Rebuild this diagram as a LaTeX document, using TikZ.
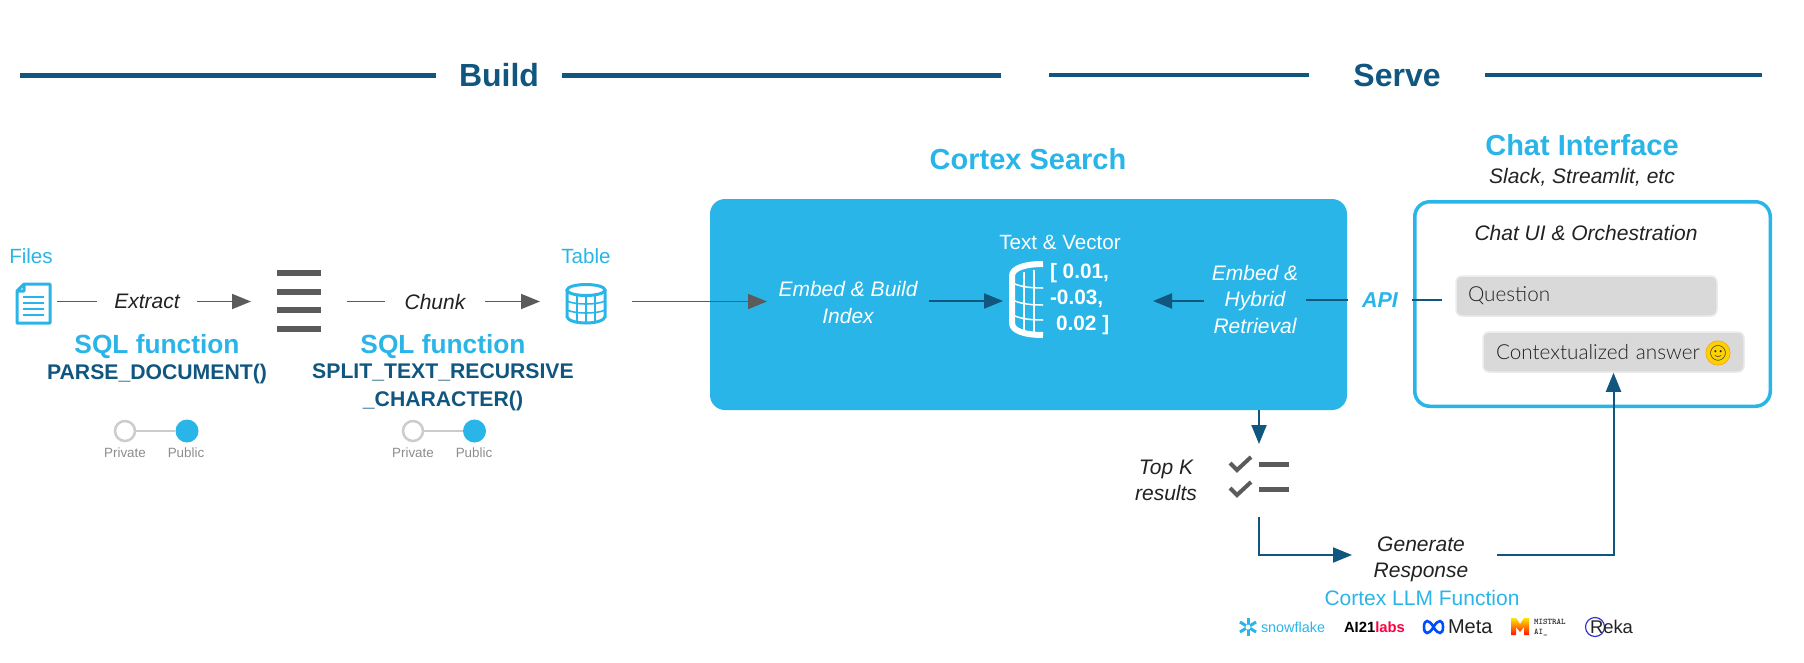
\documentclass[tikz,border=0pt]{standalone}
\usepackage{fontspec}
\setmainfont{Liberation Sans}
\newfontfamily\latofont{Lato Light}
\newfontfamily\emojifont{Noto Emoji}
\usetikzlibrary{arrows.meta}
\definecolor{snowblue}{HTML}{29B5E8}
\definecolor{midblue}{HTML}{11567F}
\definecolor{iconGray}{HTML}{5B5B5B}
\definecolor{inkGray}{HTML}{222222}
\definecolor{bubbleGray}{HTML}{D9D9D9}
\tikzset{
    bare/.style={inner sep=0pt, outer sep=0pt, align=center},
    rule/.style={midblue, line width=4.5pt},
    headline/.style={bare, midblue, font=\fontsize{32}{36}\selectfont\bfseries},
    sectionhead/.style={bare, snowblue, font=\fontsize{29}{33}\selectfont\bfseries},
    sqlhead/.style={bare, snowblue, font=\fontsize{26.3}{30}\selectfont\bfseries},
    sqlname/.style={bare, midblue, font=\fontsize{21.2}{28}\selectfont\bfseries},
    caption/.style={bare, snowblue, font=\fontsize{20.6}{25}\selectfont},
    action/.style={bare, inkGray, font=\fontsize{21}{26}\selectfont\itshape},
    whiteaction/.style={bare, white, font=\fontsize{21}{26.5}\selectfont\itshape},
    tinylabel/.style={bare, gray!90, font=\fontsize{13.4}{16}\selectfont},
    offdot/.style={circle, draw=gray!40, fill=white, line width=2.5pt, minimum size=20pt, inner sep=0pt},
    ondot/.style={circle, fill=snowblue, minimum size=23pt, inner sep=0pt},
    bubble/.style={draw=gray!15, fill=bubbleGray, line width=1.5pt, rounded corners=6pt, inner sep=0pt,
        minimum height=40pt, text width=261pt, align=left, text=inkGray, font=\latofont\fontsize{20.7}{24}\selectfont},
    grayline/.style={iconGray, line width=1.8pt},
    grayarrow/.style={grayline, -{Triangle[length=19pt,width=15pt]}},
    blueline/.style={midblue, line width=2pt},
    bluearrow/.style={blueline, -{Triangle[length=19pt,width=15pt]}},
    slot/.style={inner sep=0pt, outer sep=0pt}
}
\begin{document}
\begin{tikzpicture}[x=1pt, y=-1pt]
    \useasboundingbox (0,0) rectangle (1804,662);

    % Header rules
    \node[headline, minimum width=126pt] (build) at (499,75.5) {Build};
    \node[headline, minimum width=176pt] (serve) at (1397,75) {Serve};
    \coordinate (buildleft) at (20,75.5);
    \coordinate (buildright) at (1001,75.5);
    \coordinate (serveleft) at (1049,75);
    \coordinate (serveright) at (1762,75);
    \draw[rule] (buildleft) -- (build.west);
    \draw[rule] (build.east) -- (buildright);
    \draw[rule] (serveleft) -- (serve.west);
    \draw[rule] (serve.east) -- (serveright);

    % Files and extract step
    \node[caption] (files) at (31,256) {Files};
    \node[slot, minimum width=47pt, minimum height=40pt] (fileicon) at (33.5,301.5) {};
    \draw[snowblue, line width=3pt, line join=round] (24,284) -- (50,284) -- (50,323) -- (17,323) -- (17,291) -- (24,284) -- (24,291) -- (17,291);
    \draw[snowblue, line width=2.4pt] (23,297) -- (44,297);
    \draw[snowblue, line width=2.4pt] (23,303) -- (44,303);
    \draw[snowblue, line width=2.4pt] (23,309) -- (44,309);
    \draw[snowblue, line width=2.4pt] (23,315) -- (44,315);
    \node[action, minimum width=100pt] (extract) at (147,301.5) {Extract};
    \node[sqlhead] (sqlone) at (157,347) {SQL function};
    \node[sqlname] (parsefn) at (157,374) {PARSE\_DOCUMENT()};
    \node[offdot] (privateone) at (125,431) {};
    \node[ondot] (publicone) at (187,431) {};
    \draw[gray!40, line width=2.5pt] (privateone) -- (publicone);
    \node[tinylabel] (privateonelabel) at (125,453) {Private};
    \node[tinylabel] (publiconelabel) at (186,453) {Public};

    % Chunks and chunk step
    \node[slot, minimum width=96pt, minimum height=62pt] (chunks) at (299,301.5) {};
    \fill[iconGray] (277,270) rectangle (321,276);
    \fill[iconGray] (277,289) rectangle (321,295);
    \fill[iconGray] (277,307) rectangle (321,313);
    \fill[iconGray] (277,326) rectangle (321,332);
    \node[action, minimum width=100pt] (chunk) at (435,301.5) {Chunk};
    \node[sqlhead] (sqltwo) at (443,347) {SQL function};
    \node[sqlname] (splitfn) at (443,387) {SPLIT\_TEXT\_RECURSIVE\\\_CHARACTER()};
    \node[offdot] (privatetwo) at (413,431) {};
    \node[ondot] (publictwo) at (474.5,431) {};
    \draw[gray!40, line width=2.5pt] (privatetwo) -- (publictwo);
    \node[tinylabel] (privatetwolabel) at (413,453) {Private};
    \node[tinylabel] (publictwolabel) at (474,453) {Public};

    % Table
    \node[caption] (table) at (586,256) {Table};
    \node[slot, minimum width=92pt, minimum height=40pt] (tableicon) at (586,301.5) {};
    \draw[snowblue, line width=3pt] (586,290) ellipse (19pt and 5.5pt);
    \draw[snowblue, line width=3pt] (567,290) -- (567,317) .. controls (570,325) and (602,325) .. (605,317) -- (605,290);
    \draw[snowblue, line width=1.6pt] (567,301) .. controls (575,305) and (597,305) .. (605,301);
    \draw[snowblue, line width=1.6pt] (567,310) .. controls (575,314) and (597,314) .. (605,310);
    \draw[snowblue, line width=1.6pt] (577,295) -- (577,321);
    \draw[snowblue, line width=1.6pt] (586,296) -- (586,322);
    \draw[snowblue, line width=1.6pt] (595,295) -- (595,321);

    % Cortex Search box
    \node[sectionhead] (search) at (1028,159) {Cortex Search};
    \node[fill=snowblue, rounded corners=15pt, inner sep=0pt, minimum width=637pt, minimum height=211pt] (searchbox) at (1028.5,304.5) {};
    \node[whiteaction, minimum width=162pt] (embed) at (848,302.5) {Embed \& Build\\Index};
    \node[slot, minimum width=150pt, minimum height=70pt] (vector) at (1078,301) {};
    \node[bare, white, font=\fontsize{20.6}{25}\selectfont] (vectorlabel) at (1060,242) {Text \& Vector};
    \draw[white, line width=6pt] (1043,264) .. controls (1025,264) and (1012,268) .. (1012,276) -- (1012,323) .. controls (1012,331) and (1025,335) .. (1043,335);
    \draw[white, line width=1.5pt] (1015,284) .. controls (1022,287) and (1032,288) .. (1043,288);
    \draw[white, line width=1.5pt] (1015,301) .. controls (1022,304) and (1032,305) .. (1043,305);
    \draw[white, line width=1.5pt] (1015,316) .. controls (1022,319) and (1032,320) .. (1043,320);
    \draw[white, line width=1.5pt] (1024,272) -- (1024,331);
    \draw[white, line width=1.5pt] (1034,270) -- (1034,333);
    \node[bare, white, anchor=west, align=left, font=\fontsize{20.8}{26}\selectfont\bfseries] (vectorvalues) at (1050,299) {[ 0.01,\\-0.03,\\\hspace*{6pt}0.02 ]};
    \node[whiteaction, minimum width=102pt] (hybrid) at (1255,299) {Embed \&\\Hybrid\\Retrieval};

    % Chat interface
    \node[sectionhead] (chat) at (1582,145) {Chat Interface};
    \node[action, font=\fontsize{21}{25}\selectfont\itshape] (chatapps) at (1582,177) {Slack, Streamlit, etc};
    \node[draw=snowblue, fill=white, line width=3.5pt, rounded corners=15pt, inner sep=0pt, minimum width=355.5pt, minimum height=204.5pt] (chatbox) at (1592.5,304) {};
    \node[action] (chatui) at (1586,233) {Chat UI \& Orchestration};
    \node[bubble] (question) at (1586.5,296) {\hspace*{12pt}Question};
    \node[bubble] (answer) at (1613.5,352) {\hspace*{13pt}Contextualized answer};
    \node[circle, fill=yellow!70!orange, draw=orange!80!yellow, line width=0.5pt, inner sep=0pt, minimum size=19pt, text=inkGray, font=\emojifont\fontsize{15}{15}\selectfont] (smile) at (1718,353) {🙂};
    \node[bare, snowblue, minimum width=64pt, font=\fontsize{21.5}{25}\selectfont\bfseries\itshape] (api) at (1380,300) {API};

    % Top K results
    \node[slot, minimum width=60pt, minimum height=73pt] (checks) at (1259,480.5) {};
    \node[action] (topk) at (1166,480) {Top K\\results};
    \draw[iconGray, line width=4pt] (1230,463) -- (1237,470) -- (1251,457);
    \fill[iconGray] (1259,461.5) rectangle (1289,466.5);
    \draw[iconGray, line width=4pt] (1230,488) -- (1237,495) -- (1251,482);
    \fill[iconGray] (1259,486.5) rectangle (1289,491.5);

    % Generate response and models
    \node[action, minimum width=138pt] (generate) at (1421,559) {Generate\\Response};
    \node[caption, font=\fontsize{21}{25}\selectfont] (llm) at (1422,598) {Cortex LLM Function};
    \draw[snowblue, line width=3pt] (1248,618) -- (1248,636);
    \draw[snowblue, line width=3pt] (1240,622) -- (1256,632);
    \draw[snowblue, line width=3pt] (1240,632) -- (1256,622);
    \fill[white] (1248,627) circle (2.5pt);
    \node[bare, snowblue, anchor=west, font=\fontsize{14.4}{16}\selectfont] (snowflake) at (1261,627) {snowflake};
    \node[bare, anchor=west, font=\fontsize{14.8}{16}\selectfont\bfseries] (aitwentyone) at (1344,627) {AI21\textcolor{red!75!magenta}{labs}};
    \draw[blue!70!cyan, line width=2.6pt] (1433.5,627) .. controls (1429,619) and (1424,619) .. (1424,627) .. controls (1424,635) and (1429,635) .. (1433.5,627) .. controls (1438,619) and (1443,619) .. (1443,627) .. controls (1443,635) and (1438,635) .. (1433.5,627);
    \node[bare, inkGray, anchor=west, font=\fontsize{20}{22}\selectfont] (meta) at (1448,627) {Meta};
    \shade[top color=yellow!80!orange, bottom color=red!85!orange] (1511,618) -- (1516,618) -- (1520,624) -- (1524,618) -- (1529,618) -- (1529,635) -- (1524,635) -- (1524,627) -- (1520,632) -- (1516,627) -- (1516,635) -- (1511,635) -- cycle;
    \node[bare, inkGray, anchor=west, align=left, font=\ttfamily\fontsize{8.6}{10}\selectfont\bfseries] (mistral) at (1534,627) {MISTRAL\\AI\_};
    \draw[blue!60!gray, line width=1.2pt] (1595,627) circle (9.5pt);
    \node[bare, inkGray, anchor=west, font=\fontsize{18.4}{20}\selectfont] (reka) at (1590,627) {Reka};

    % Connectors
    \draw[grayline] (fileicon) -- (extract);
    \draw[grayarrow] (extract) -- (chunks);
    \draw[grayline] (chunks) -- (chunk);
    \draw[grayarrow] (chunk) -- (tableicon);
    \draw[grayarrow] (tableicon) -- (tableicon -| embed.west);
    \draw[bluearrow] (embed.east |- vector) -- (vector);
    \draw[bluearrow] (hybrid.west |- vector) -- (vector);
    \draw[blueline] (hybrid.east |- api) -- (api);
    \draw[blueline, shorten >=13pt] (api) -- (api -| question.west);
    \draw[bluearrow] (checks.north |- searchbox.south) -- (checks.north);
    \draw[bluearrow] (checks.south) |- ([yshift=4pt]generate.west);
    \draw[bluearrow, shorten <=7pt] ([yshift=4pt]generate.east) -| (answer.south);
\end{tikzpicture}
\end{document}
